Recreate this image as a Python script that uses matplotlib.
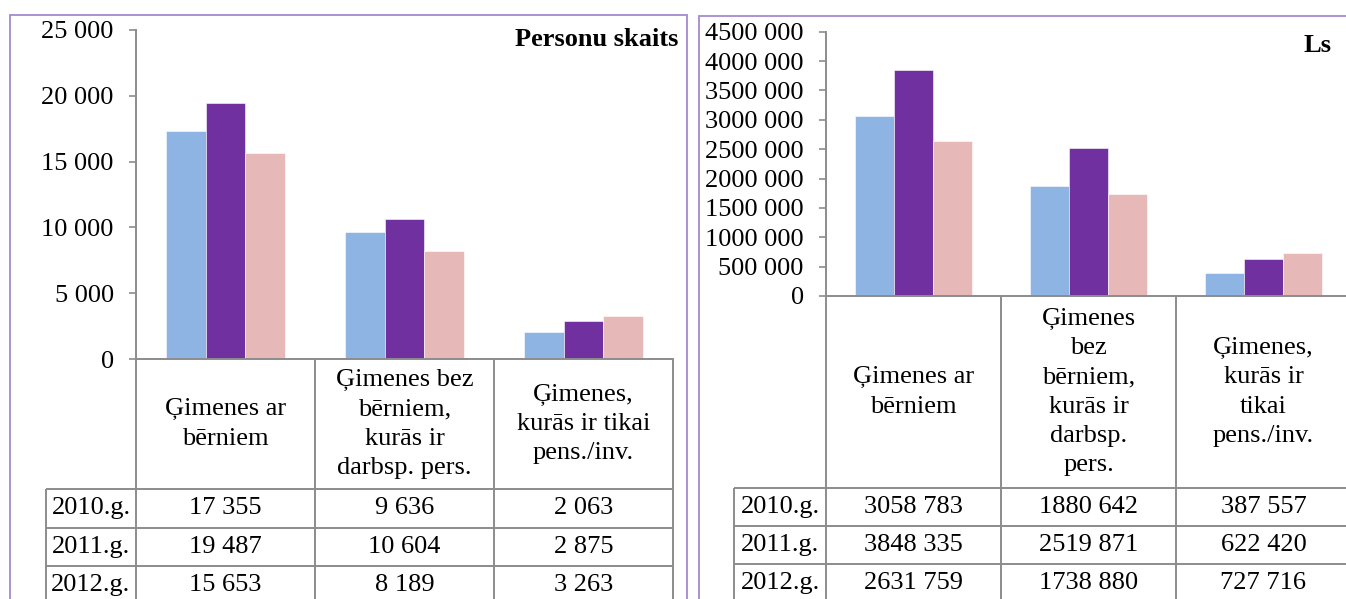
import matplotlib
matplotlib.use("Agg")
import matplotlib.pyplot as plt
from matplotlib.lines import Line2D
from matplotlib.patches import Rectangle
import numpy as np

# ---------------- data ----------------
categories_left = ["Ģimenes ar\nbērniem",
                   "Ģimenes bez\nbērniem,\nkurās ir\ndarbsp. pers.",
                   "Ģimenes,\nkurās ir tikai\npens./inv."]
categories_right = ["Ģimenes ar\nbērniem",
                    "Ģimenes\nbez\nbērniem,\nkurās ir\ndarbsp.\npers.",
                    "Ģimenes,\nkurās ir\ntikai\npens./inv."]
years = ["2010.g.", "2011.g.", "2012.g."]

persons_2010 = [17355, 9636, 2063]
persons_2011 = [19487, 10604, 2875]
persons_2012 = [15653, 8189, 3263]

money_2010 = [3058783, 1880642, 387557]
money_2011 = [3848335, 2519871, 622420]
money_2012 = [2631759, 1738880, 727716]

left_yticks = [0, 5000, 10000, 15000, 20000, 25000]
right_yticks = [0, 500000, 1000000, 1500000, 2000000, 2500000,
                3000000, 3500000, 4000000, 4500000]

left_title = "Personu skaits"
right_title = "Ls"

# ---------------- style ----------------
colors = ["#8DB4E2", "#7030A0", "#E6B9B8"]
GRAY = "#8C8C8C"
FRAME = "#A38BCF"
FS = 19
plt.rcParams["font.family"] = ["Liberation Serif", "DejaVu Serif"]

W, H = 1346, 599
fig = plt.figure(figsize=(W / 100, H / 100), dpi=100)


def fx(px):
    return px / W


def fy(py):
    return 1 - py / H


def fmt(v):
    v = int(round(v))
    if v >= 1000:
        return f"{v // 1000} {v % 1000:03d}"
    return str(v)


def hline(x0, x1, y, color=GRAY, lw=1.4):
    fig.add_artist(Line2D([fx(x0), fx(x1)], [fy(y), fy(y)],
                          transform=fig.transFigure, color=color, lw=lw,
                          solid_capstyle="butt"))


def vline(x, y0, y1, color=GRAY, lw=1.4):
    fig.add_artist(Line2D([fx(x), fx(x)], [fy(y0), fy(y1)],
                          transform=fig.transFigure, color=color, lw=lw,
                          solid_capstyle="butt"))


def panel(L, T, B, cw, ymax, yticks, series, cats, label_left,
          header_bottom, row_h, frame, title, title_xy):
    # frame
    fx0, fy0, fx1, fy1 = frame
    fig.add_artist(Rectangle((fx(fx0), fy(fy1)), (fx1 - fx0) / W,
                             (fy1 - fy0) / H, transform=fig.transFigure,
                             fill=False, edgecolor=FRAME, lw=1.3))

    ax = fig.add_axes([fx(L), fy(B), 3 * cw / W, (B - T) / H])
    ax.set_xlim(0, 3)
    ax.set_ylim(0, ymax)
    bw = 1 / 4.5
    x = np.arange(3) + 0.5
    for i, vals in enumerate(series):
        ax.bar(x + (i - 1) * bw, vals, width=bw, color=colors[i],
               edgecolor="white", linewidth=0.4, zorder=2)
    for s in ["top", "right"]:
        ax.spines[s].set_visible(False)
    for s in ["left", "bottom"]:
        ax.spines[s].set_color(GRAY)
        ax.spines[s].set_linewidth(1.4)
    ax.set_xticks([])
    ax.set_yticks(yticks)
    ax.set_yticklabels([fmt(v) for v in yticks], fontsize=FS)
    ax.tick_params(axis="y", direction="out", length=5, width=1.2,
                   color=GRAY, pad=11)
    ax.patch.set_alpha(0)

    # table
    right = L + 3 * cw
    bottom = header_bottom + 3 * row_h
    for k in range(4):
        vline(L + k * cw, B, bottom + 5)
    vline(label_left, header_bottom, bottom + 5)
    hline(label_left, right, header_bottom)
    for r in range(1, 3):
        hline(label_left, right, header_bottom + r * row_h)
    for k, c in enumerate(cats):
        fig.text(fx(L + (k + 0.5) * cw), fy((B + header_bottom) / 2), c,
                 ha="center", va="center", multialignment="center",
                 fontsize=FS, linespacing=1.42)
    for r, yr in enumerate(years):
        yc = header_bottom + (r + 0.5) * row_h
        fig.text(fx((label_left + L) / 2), fy(yc), yr, ha="center",
                 va="center", fontsize=FS)
        for k in range(3):
            fig.text(fx(L + (k + 0.5) * cw), fy(yc), fmt(series[r][k]),
                     ha="center", va="center", fontsize=FS)

    fig.text(fx(title_xy[0]), fy(title_xy[1]), title, ha="right",
             va="center", fontsize=FS, fontweight="bold")
    return ax


panel(136, 30, 359, 179, 25000, left_yticks,
      [persons_2010, persons_2011, persons_2012], categories_left,
      46, 489, 38.5, (10, 15, 686.6, 640), left_title, (678, 40))

panel(826, 31.7, 296, 175, 4500000, right_yticks,
      [money_2010, money_2011, money_2012], categories_right,
      734, 488, 38, (699, 16, 1400, 640), right_title, (1331, 46))

fig.savefig("out.png", dpi=100)
